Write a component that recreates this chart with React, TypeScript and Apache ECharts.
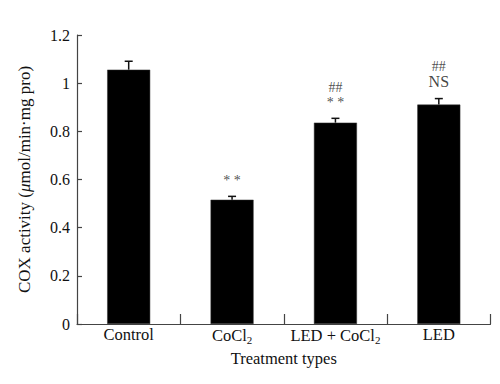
import React, { useEffect, useRef } from "react";
import * as echarts from "echarts";

const categories = ["Control", "CoCl2", "LED + CoCl2", "LED"];
const means = [1.056, 0.516, 0.836, 0.911];
const errors = [0.035, 0.014, 0.018, 0.025];
const marks = ["", "* *", "##\n* *", "##\nNS"];
const yTicks = [0, 0.2, 0.4, 0.6, 0.8, 1, 1.2];

const FONT = "'Liberation Serif', 'Times New Roman', serif";

function fmtCat(c: string) {
  return c.replace(/CoCl2/g, "CoCl{sub|2}");
}

function fmtMark(m: string) {
  if (!m) return "";
  return m
    .split("\n")
    .map((line) => {
      if (line === "##") return "{h|##}";
      if (line === "NS") return "{n|NS}";
      return "{s|" + line + "}";
    })
    .join("\n");
}

export default function App() {
  const ref = useRef<HTMLDivElement>(null);
  useEffect(() => {
    if (!ref.current) return;
    const chart = echarts.init(ref.current, undefined, { renderer: "svg" });
    chart.setOption({
      animation: false,
      backgroundColor: "#ffffff",
      textStyle: { fontFamily: FONT },
      grid: { left: 69, right: 17.5, top: 27, bottom: 68 },
      xAxis: {
        type: "category",
        data: categories,
        boundaryGap: true,
        name: "Treatment types",
        nameLocation: "middle",
        nameGap: 26,
        nameMoveOverlap: false,
        nameTextStyle: { fontFamily: FONT, fontSize: 16.5, color: "#111" },
        axisLine: { lineStyle: { color: "#444", width: 1.2 } },
        axisTick: { show: true, inside: true, length: 10, alignWithLabel: false, lineStyle: { color: "#444", width: 1.2 } },
        axisLabel: {
          interval: 0,
          fontFamily: FONT,
          fontSize: 16.5,
          color: "#111",
          margin: 2,
          formatter: (v: string) => fmtCat(v),
          rich: {
            sub: { fontFamily: FONT, fontSize: 11, color: "#111", padding: [8, 0, 0, 0] },
          },
        },
      },
      yAxis: {
        type: "value",
        min: 0,
        max: 1.2,
        interval: 0.2,
        name: "COX activity ({it|μ}mol/min·mg pro)",
        nameLocation: "middle",
        nameGap: 44,
        nameMoveOverlap: false,
        nameTextStyle: {
          fontFamily: FONT,
          fontSize: 17,
          color: "#111",
          rich: { it: { fontFamily: FONT, fontSize: 17, fontStyle: "italic", color: "#111" } },
        },
        axisLine: { show: true, lineStyle: { color: "#444", width: 1.2 } },
        axisTick: { show: true, inside: true, length: 5, lineStyle: { color: "#444", width: 1.2 } },
        splitLine: { show: false },
        axisLabel: {
          fontFamily: FONT,
          fontSize: 16,
          color: "#111",
          margin: 7,
          formatter: (v: number) => {
            const t = yTicks.find((k) => Math.abs(k - v) < 1e-9);
            return t === undefined ? "" : String(t);
          },
        },
      },
      series: [
        {
          type: "bar",
          data: means,
          barWidth: 43,
          itemStyle: { color: "#000000", borderColor: "#333", borderWidth: 0.5 },
          z: 2,
        },
        {
          type: "custom",
          z: 3,
          data: means.map((m, i) => [i, m, m + errors[i]]),
          renderItem: (params: any, api: any) => {
            const x = api.value(0);
            const lo = api.coord([x, api.value(1)]);
            const hi = api.coord([x, api.value(2)]);
            const cap = 4;
            const style = { stroke: "#111", lineWidth: 1.5 };
            return {
              type: "group",
              children: [
                { type: "line", shape: { x1: lo[0], y1: lo[1], x2: hi[0], y2: hi[1] }, style },
                { type: "line", shape: { x1: hi[0] - cap, y1: hi[1], x2: hi[0] + cap, y2: hi[1] }, style },
              ],
            };
          },
        },
        {
          type: "scatter",
          z: 4,
          symbolSize: 0,
          data: means.map((m, i) => [i, m + errors[i]]),
          label: {
            show: true,
            position: "top",
            distance: 9,
            color: "#222",
            fontFamily: FONT,
            formatter: (p: any) => fmtMark(marks[p.dataIndex]),
            rich: {
              h: { fontFamily: FONT, fontSize: 14, color: "#222", lineHeight: 15 },
              s: { fontFamily: FONT, fontSize: 14, color: "#222", lineHeight: 14 },
              n: { fontFamily: FONT, fontSize: 16, color: "#111", lineHeight: 16 },
            },
          },
        },
      ],
    });
    return () => chart.dispose();
  }, []);
  return <div ref={ref} style={{ width: 500, height: 384 }} />;
}
